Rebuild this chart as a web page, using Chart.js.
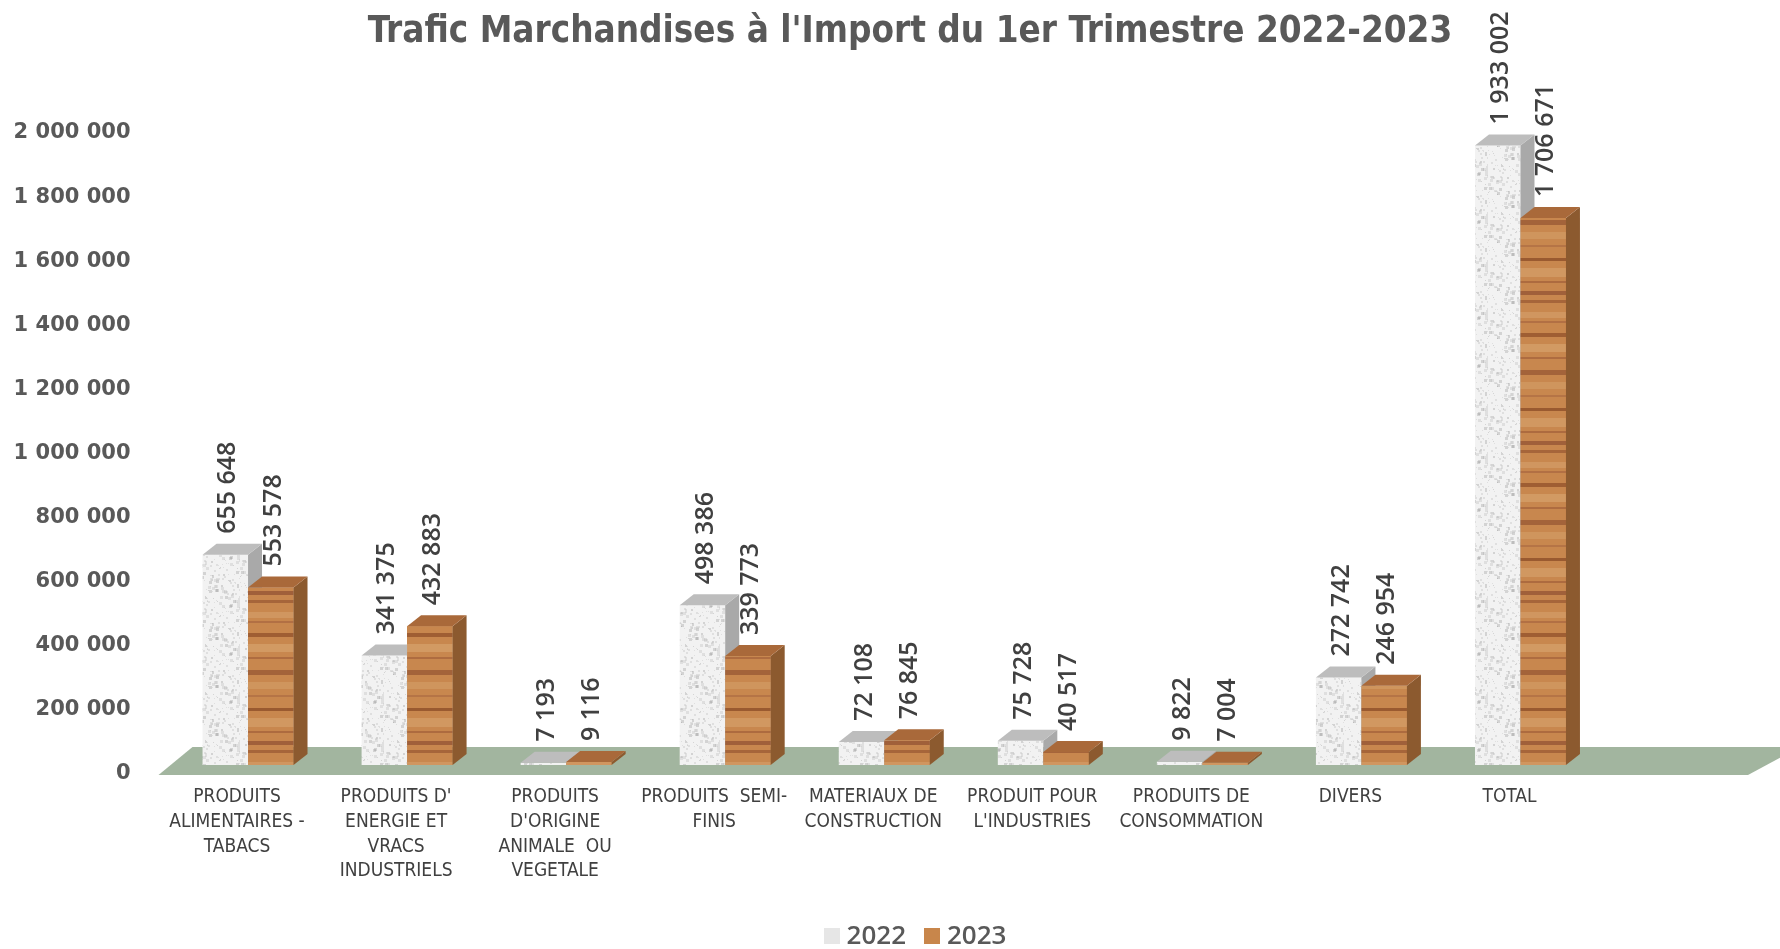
<!DOCTYPE html>
<html>
<head>
<meta charset="utf-8">
<title>Trafic Marchandises à l'Import du 1er Trimestre 2022-2023</title>
<script src="https://cdn.jsdelivr.net/npm/chart.js@4.4.1/dist/chart.umd.min.js"></script>
<style>
  html, body { margin: 0; padding: 0; background: #ffffff; }
  #wrap { position: relative; width: 1780px; height: 949px; overflow: hidden; }
  #chart-title {
    position: absolute; left: 0; top: 3px; width: 1820px; text-align: center;
    font-family: "Liberation Sans Narrow", "DejaVu Sans Condensed", sans-serif;
    font-weight: bold; font-size: 36.5px; line-height: 54px; color: #595959;
  }
  #chart-legend {
    position: absolute; left: 0; top: 916px; width: 1830px; text-align: center;
    font-family: "Open Sans", sans-serif; font-weight: 600; font-size: 26px;
    line-height: 36px; color: #595959;
  }
  #chart-legend .item { display: inline-block; margin: 0 9px; }
  #chart-legend .swatch { display: inline-block; width: 16px; height: 16px; margin-right: 7px; vertical-align: 0px; }
</style>
</head>
<body>
<div id="wrap">
  <canvas id="import-chart" width="1780" height="949"></canvas>
  <div id="chart-title">Trafic Marchandises à l'Import du 1er Trimestre 2022-2023</div>
  <div id="chart-legend"></div>
</div>
<script>
// Categories (multi-line labels as on the original)
const categories = [
    ['PRODUITS', 'ALIMENTAIRES -', 'TABACS'],
    ["PRODUITS D'", 'ENERGIE ET', 'VRACS', 'INDUSTRIELS'],
    ['PRODUITS', "D'ORIGINE", 'ANIMALE  OU', 'VEGETALE'],
    ['PRODUITS  SEMI-', 'FINIS'],
    ['MATERIAUX DE', 'CONSTRUCTION'],
    ['PRODUIT POUR', "L'INDUSTRIES"],
    ['PRODUITS DE', 'CONSOMMATION'],
    ['DIVERS'],
    ['TOTAL']
];

const seriesNames = ['2022', '2023'];
const values2022 = [655648, 341375, 7193, 498386, 72108, 75728, 9822, 272742, 1933002];
const values2023 = [553578, 432883, 9116, 339773, 76845, 40517, 7004, 246954, 1706671];

// Y axis: 0 .. 2 000 000 every 200 000
const yMin = 0;
const yMax = 2000000;
const yStep = 200000;

// 3D look
const depthX = 14;
const depthY = 11;

// Format numbers with a space as thousands separator
function formatNumber(v) {
    return String(v).replace(/\B(?=(\d{3})+(?!\d))/g, ' ');
}

// Marble texture for 2022
function makeMarble() {
    const c = document.createElement('canvas');
    c.width = 48; c.height = 48;
    const g = c.getContext('2d');
    g.fillStyle = '#f2f2f2';
    g.fillRect(0, 0, 48, 48);
    for (let i = 0; i < 140; i++) {
        const x = (i * 37 + (i * i) % 11) % 48;
        const y = (i * 53 + (i * i) % 17) % 48;
        const s = 1 + (i % 3);
        g.fillStyle = i % 4 === 0 ? 'rgba(140,140,140,0.3)' : 'rgba(195,195,195,0.4)';
        g.fillRect(x, y, s, s);
    }
    return g.createPattern(c, 'repeat');
}

// Wood texture for 2023
function makeWood() {
    const c = document.createElement('canvas');
    c.width = 60; c.height = 150;
    const g = c.getContext('2d');
    g.fillStyle = '#c8874e';
    g.fillRect(0, 0, 60, 150);
    const bands = [
        [0, 3, '#a6653a'], [12, 6, '#d09660'], [21, 2, '#b27044'], [33, 4, '#9f5e33'],
        [44, 8, '#d29a63'], [57, 2, '#ae6c40'], [70, 5, '#a3633a'], [82, 7, '#cf955d'],
        [95, 2, '#b57446'], [108, 3, '#9a5a30'], [118, 9, '#d19861'], [131, 2, '#ad6b3f'],
        [141, 4, '#a0603a']
    ];
    bands.forEach(b => { g.fillStyle = b[2]; g.fillRect(0, b[0], 60, b[1]); });
    return g.createPattern(c, 'repeat');
}

const marble = makeMarble();
const wood = makeWood();

const faceStyles = [
    { front: marble, side: '#a9a9a9', top: '#bdbdbd' },
    { front: wood, side: '#8c5a2f', top: '#a9693a' }
];

// Green floor under the bars
const floorPlugin = {
    id: 'floor3d',
    beforeDatasetsDraw(chart) {
        const ctx = chart.ctx;
        const a = chart.chartArea;
        const base = chart.scales.y.getPixelForValue(0);
        ctx.save();
        ctx.fillStyle = '#a2b59f';
        ctx.beginPath();
        ctx.moveTo(a.left - 10, base + 10);
        ctx.lineTo(a.left + 24, base - 18);
        ctx.lineTo(1800, base - 18);
        ctx.lineTo(a.right + 148, base + 10);
        ctx.closePath();
        ctx.fill();
        ctx.restore();
    }
};

// Side and top faces; the 2023 front is drawn again so it covers the 2022 side
const bar3dPlugin = {
    id: 'bar3d',
    afterDatasetsDraw(chart) {
        const ctx = chart.ctx;
        const metas = [chart.getDatasetMeta(0), chart.getDatasetMeta(1)];
        metas[0].data.forEach((_, j) => {
            metas.forEach((meta, i) => {
                const el = meta.data[j];
                const st = faceStyles[i];
                const left = el.x - el.width / 2;
                const right = el.x + el.width / 2;
                const top = el.y;
                const base = el.base;
                ctx.save();
                if (i > 0) {
                    ctx.fillStyle = st.front;
                    ctx.fillRect(left, top, right - left, base - top);
                }
                ctx.fillStyle = st.side;
                ctx.beginPath();
                ctx.moveTo(right, top);
                ctx.lineTo(right + depthX, top - depthY);
                ctx.lineTo(right + depthX, base - depthY);
                ctx.lineTo(right, base);
                ctx.closePath();
                ctx.fill();
                ctx.fillStyle = st.top;
                ctx.beginPath();
                ctx.moveTo(left, top);
                ctx.lineTo(left + depthX, top - depthY);
                ctx.lineTo(right + depthX, top - depthY);
                ctx.lineTo(right, top);
                ctx.closePath();
                ctx.fill();
                ctx.restore();
            });
        });
    }
};

// Vertical value labels above bars
const valueLabelPlugin = {
    id: 'valueLabels',
    afterDatasetsDraw(chart) {
        const ctx = chart.ctx;
        ctx.save();
        ctx.font = '600 25px "Open Sans", sans-serif';
        ctx.fillStyle = '#404040';
        ctx.textAlign = 'left';
        ctx.textBaseline = 'middle';
        chart.data.datasets.forEach((ds, i) => {
            chart.getDatasetMeta(i).data.forEach((el, j) => {
                ctx.save();
                ctx.translate(el.x + 3, el.y - 21);
                ctx.rotate(-Math.PI / 2);
                ctx.fillText(formatNumber(ds.data[j]), 0, 0);
                ctx.restore();
            });
        });
        ctx.restore();
    }
};

const ctx = document.getElementById('import-chart').getContext('2d');

new Chart(ctx, {
    type: 'bar',
    data: {
        labels: categories,
        datasets: [
            { label: seriesNames[0], data: values2022, backgroundColor: marble, borderWidth: 0 },
            { label: seriesNames[1], data: values2023, backgroundColor: wood, borderWidth: 0 }
        ]
    },
    options: {
        responsive: false,
        animation: false,
        layout: { padding: { top: 124, right: 180, bottom: 64, left: 0 } },
        datasets: { bar: { categoryPercentage: 0.572, barPercentage: 1.0 } },
        plugins: {
            legend: { display: false },
            title: { display: false },
            tooltip: { enabled: false }
        },
        scales: {
            x: {
                grid: { display: false, drawTicks: false },
                border: { display: false },
                ticks: {
                    color: '#404040',
                    font: { family: '"Liberation Sans Narrow", "DejaVu Sans Condensed", sans-serif', size: 19, lineHeight: 1.3 },
                    padding: 20,
                    labelOffset: -11,
                    maxRotation: 0,
                    autoSkip: false
                },
                afterFit(scale) { scale.height = 120; }
            },
            y: {
                min: yMin,
                max: yMax,
                grid: { display: false, drawTicks: false },
                border: { display: false },
                ticks: {
                    stepSize: yStep,
                    color: '#595959',
                    font: { family: '"DejaVu Sans", sans-serif', size: 21, weight: 'bold' },
                    padding: 38,
                    labelOffset: 9,
                    callback: v => formatNumber(v)
                },
                afterFit(scale) { scale.width = 168.5; }
            }
        }
    },
    plugins: [floorPlugin, bar3dPlugin, valueLabelPlugin]
});

// Legend
const legendColors = ['#e6e6e6', '#c8864b'];
document.getElementById('chart-legend').innerHTML = seriesNames.map((name, i) =>
    `<span class="item"><span class="swatch" style="background:${legendColors[i]}"></span>${name}</span>`
).join('');
</script>
</body>
</html>
